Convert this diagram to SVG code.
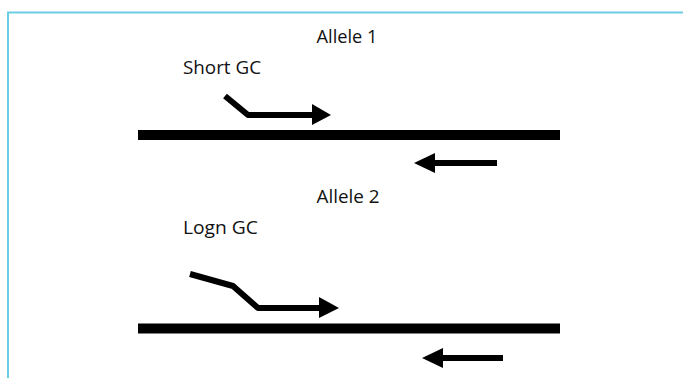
<svg xmlns="http://www.w3.org/2000/svg" width="683" height="378" viewBox="0 0 683 378">
  <style>
    .label { font-family: "Open Sans", "Noto Sans", sans-serif; font-size: 19px; fill: #111; }
    .strand { stroke: #000; stroke-width: 10; fill: none; }
    .primer { stroke: #000; stroke-width: 6; fill: none; stroke-linejoin: round; }
    .head { fill: #000; }
    .frame { stroke: #6ccde6; stroke-width: 2; fill: none; }
  </style>
  <rect width="683" height="378" fill="#fff"/>
  <path class="frame" d="M8,378 V12.5 H683"/>

  <g id="allele1-title"><text class="label" x="347" y="43" text-anchor="middle" textLength="61" lengthAdjust="spacingAndGlyphs">Allele 1</text></g>
  <g id="short-gc-label"><text class="label" x="183" y="74" textLength="78" lengthAdjust="spacingAndGlyphs">Short GC</text></g>
  <g id="allele2-title"><text class="label" x="348" y="203" text-anchor="middle" textLength="63" lengthAdjust="spacingAndGlyphs">Allele 2</text></g>
  <g id="long-gc-label"><text class="label" x="183" y="234" textLength="75" lengthAdjust="spacingAndGlyphs">Logn GC</text></g>

  <g id="strand1"><line class="strand" x1="138" y1="135" x2="560" y2="135"/></g>
  <g id="strand2"><line class="strand" x1="138" y1="328.5" x2="560" y2="328.5"/></g>

  <g id="connectors">
    <!-- allele 1: forward primer with short GC tail -->
    <polyline class="primer" points="225,96 248,115 314,115"/>
    <polygon class="head" points="312,104 331,115 312,125"/>
    <!-- allele 1: reverse primer -->
    <line class="primer" x1="497" y1="163" x2="430" y2="163"/>
    <polygon class="head" points="435,153 414,163 435,173"/>
    <!-- allele 2: forward primer with long GC tail -->
    <polyline class="primer" points="190,274 233,286 258,308 322,308"/>
    <polygon class="head" points="319,297 339,308 319,318"/>
    <!-- allele 2: reverse primer -->
    <line class="primer" x1="503" y1="358" x2="438" y2="358"/>
    <polygon class="head" points="443,348 422,358 443,368"/>
  </g>
</svg>
